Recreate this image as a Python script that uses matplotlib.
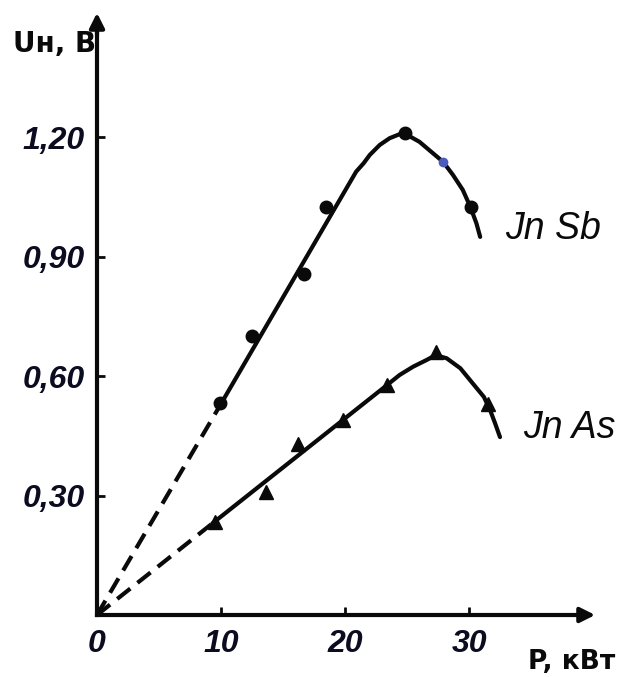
import matplotlib
matplotlib.use('Agg')
import matplotlib.pyplot as plt

# values (P in kW, U in V)
insb_pts_p = [9.9, 12.5, 16.7, 18.5, 24.8, 30.2]
insb_pts_u = [0.533, 0.70, 0.857, 1.025, 1.21, 1.025]
insb_curve_p = [9.8, 20.9, 21.5, 22.0, 22.8, 23.6, 24.4, 24.8, 26.0, 27.1, 27.9, 28.7, 29.5, 30.1, 30.6, 30.9]
insb_curve_u = [0.52, 1.114, 1.135, 1.156, 1.181, 1.198, 1.208, 1.21, 1.189, 1.16, 1.139, 1.106, 1.068, 1.026, 0.984, 0.95]
insb_dash_p = [0, 9.8]
insb_dash_u = [0, 0.52]

inas_pts_p = [9.5, 13.6, 16.2, 19.8, 23.4, 27.3, 31.5]
inas_pts_u = [0.234, 0.31, 0.43, 0.49, 0.578, 0.66, 0.53]
inas_curve_p = [9.3, 23.4, 24.4, 25.5, 26.6, 27.3, 28.2, 29.3, 30.3, 31.2, 31.7, 32.1, 32.5]
inas_curve_u = [0.23, 0.578, 0.603, 0.624, 0.641, 0.653, 0.645, 0.62, 0.582, 0.548, 0.515, 0.482, 0.447]
inas_dash_p = [0, 9.3]
inas_dash_u = [0, 0.23]

x_ticks = [0, 10, 20, 30]
x_labels = ['0', '10', '20', '30']
y_ticks = [0.30, 0.60, 0.90, 1.20]
y_labels = ['0,30', '0,60', '0,90', '1,20']

ink = '#0a0a0a'
num_font = ['Liberation Sans', 'DejaVu Sans']

fig = plt.figure(figsize=(6.27, 6.77), dpi=100)
ax = fig.add_axes([0, 0, 1, 1])
ax.set_xlim(-97 / 12.4, (627 - 97) / 12.4)
ax.set_ylim((615 - 677) / 398, 615 / 398)

# axes through the origin with arrows
for side in ['top', 'right']:
    ax.spines[side].set_visible(False)
ax.spines['left'].set_position(('data', 0))
ax.spines['bottom'].set_position(('data', 0))
ax.spines['left'].set_bounds(0, 1.47)
ax.spines['bottom'].set_bounds(0, 39.0)
for side in ['left', 'bottom']:
    ax.spines[side].set_linewidth(3)
    ax.spines[side].set_color(ink)
ax.annotate('', xy=(40.4, 0), xytext=(38.5, 0),
            arrowprops=dict(arrowstyle='-|>', lw=3, color=ink, mutation_scale=22))
ax.annotate('', xy=(0, 1.52), xytext=(0, 1.45),
            arrowprops=dict(arrowstyle='-|>', lw=3, color=ink, mutation_scale=22))

ax.set_xticks(x_ticks)
ax.set_xticklabels(x_labels, family=num_font, style='italic', fontweight='bold',
                   fontsize=23, color='#0c0c20')
ax.set_yticks(y_ticks)
ax.set_yticklabels(y_labels, family=num_font, style='italic', fontweight='bold',
                   fontsize=23, color='#0c0c20')
ax.tick_params(direction='in', length=6, width=2, color=ink)
ax.tick_params(axis='x', pad=10)
ax.tick_params(axis='y', pad=9)

# InSb
ax.plot(insb_dash_p, insb_dash_u, color=ink, lw=3, dashes=(4, 2.2))
ax.plot(insb_curve_p, insb_curve_u, color=ink, lw=3, solid_capstyle='round')
ax.plot(insb_pts_p, insb_pts_u, 'o', color=ink, ms=9)
ax.plot([27.9], [1.139], 'o', color='#4a5bc0', ms=6)

# InAs
ax.plot(inas_dash_p, inas_dash_u, color=ink, lw=3, dashes=(4, 2.2))
ax.plot(inas_curve_p, inas_curve_u, color=ink, lw=3, solid_capstyle='round')
ax.plot(inas_pts_p, inas_pts_u, '^', color=ink, ms=10)

ax.text(36.8, 0.97, 'Jn Sb', family=num_font, style='italic', fontsize=27,
        color=ink, ha='center', va='center')
ax.text(38.1, 0.47, 'Jn As', family=num_font, style='italic', fontsize=27,
        color=ink, ha='center', va='center')

ax.text(-3.4, 1.435, 'Uн, В', fontsize=20, fontweight='bold', color=ink,
        ha='center', va='center')
ax.text(38.3, -0.118, 'P, кВт', fontsize=19, fontweight='bold', color=ink,
        ha='center', va='center')

fig.savefig('out.png', dpi=100)
